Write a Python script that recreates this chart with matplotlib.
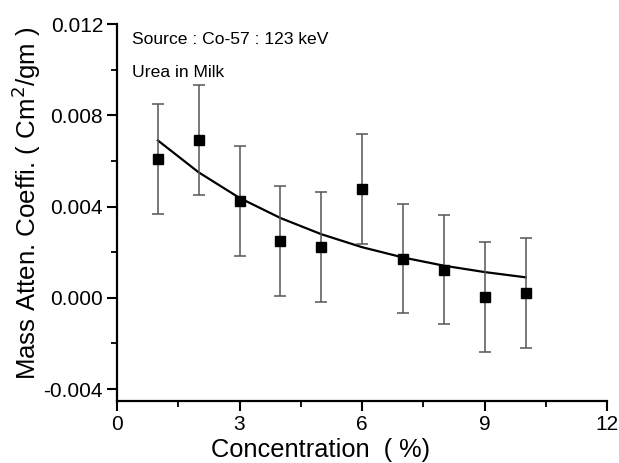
import numpy as np
import matplotlib
matplotlib.use("Agg")
import matplotlib.pyplot as plt
from matplotlib.ticker import MultipleLocator, FormatStrFormatter

# data
conc = [1, 2, 3, 4, 5, 6, 7, 8, 9, 10]
mass_atten = [0.00608, 0.00692, 0.00424, 0.00249, 0.00222, 0.00478, 0.00172, 0.00124, 0.00004, 0.00022]
atten_err = [0.0024, 0.0024, 0.0024, 0.0024, 0.0024, 0.0024, 0.0024, 0.0024, 0.0024, 0.0024]
# exponential decay fit
fit_x = [1, 2, 3, 4, 5, 6, 7, 8, 9, 10]
fit_y = [0.00690, 0.00550, 0.00438, 0.00350, 0.00279, 0.00222, 0.00177, 0.00141, 0.00113, 0.00090]

x_ticks = [0, 3, 6, 9, 12]
y_ticks = [-0.004, 0.000, 0.004, 0.008, 0.012]

plt.rcParams["font.family"] = ["Liberation Sans", "DejaVu Sans"]
plt.rcParams["axes.unicode_minus"] = False

fig = plt.figure(figsize=(6.19, 4.63), dpi=100)
ax = fig.add_axes([0.189, 0.133, 0.792, 0.815])

ax.plot(fit_x, fit_y, color="black", lw=1.6, zorder=2)
ax.errorbar(conc, mass_atten, yerr=atten_err, fmt="s", color="black",
            ms=7.5, ecolor="#555555", elinewidth=1.1, capsize=4.5,
            capthick=1.1, zorder=3)

ax.set_xlim(0, 12)
ax.set_ylim(-0.00454, 0.012)
ax.set_xticks(x_ticks)
ax.set_yticks(y_ticks)
ax.xaxis.set_minor_locator(MultipleLocator(1.5))
ax.yaxis.set_minor_locator(MultipleLocator(0.002))
ax.yaxis.set_major_formatter(FormatStrFormatter("%.3f"))

for side in ["top", "right"]:
    ax.spines[side].set_visible(False)
for side in ["left", "bottom"]:
    ax.spines[side].set_linewidth(1.6)

ax.tick_params(which="major", direction="out", length=7, width=1.5, labelsize=15, pad=3)
ax.tick_params(which="minor", direction="out", length=4, width=1.3)

ax.set_xlabel("Concentration  ( %)", fontsize=18.3)
ax.set_ylabel("Mass Atten. Coeffi. ( Cm$^2$/gm )", fontsize=18.6)
ax.xaxis.set_label_coords(0.416, -0.098)
ax.yaxis.set_label_coords(-0.15, 0.526)

ax.text(0.03, 0.979, "Source : Co-57 : 123 keV", transform=ax.transAxes,
        fontsize=12.6, va="top", ha="left")
ax.text(0.03, 0.891, "Urea in Milk", transform=ax.transAxes,
        fontsize=12.6, va="top", ha="left")

fig.savefig("out.png", dpi=100)
